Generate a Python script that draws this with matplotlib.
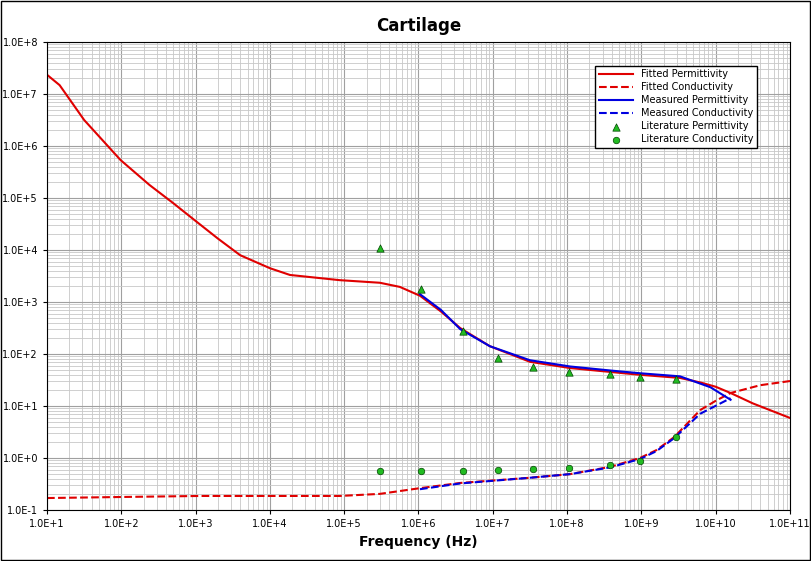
import numpy as np
import matplotlib
matplotlib.use("Agg")
import matplotlib.pyplot as plt
from matplotlib.ticker import FixedLocator, FuncFormatter, LogLocator

# log10 values
fp_logf = [1.0, 1.17, 1.5, 1.99, 2.38, 2.7, 2.99, 3.3, 3.6, 4.0, 4.27, 4.94, 5.48, 5.75, 6.02, 6.3, 6.56, 6.96, 7.5, 8.04, 8.98, 9.52, 9.8, 10.0, 10.2, 10.5, 11.0]
fp_logv = [7.37, 7.17, 6.5, 5.73, 5.25, 4.9, 4.57, 4.22, 3.9, 3.65, 3.52, 3.42, 3.37, 3.29, 3.12, 2.82, 2.5, 2.15, 1.85, 1.73, 1.6, 1.54, 1.45, 1.37, 1.25, 1.05, 0.77]
mp_logf = [6.02, 6.3, 6.56, 6.96, 7.5, 8.04, 8.6, 8.98, 9.52, 9.93, 10.2]
mp_logv = [3.15, 2.85, 2.48, 2.15, 1.88, 1.76, 1.68, 1.63, 1.57, 1.36, 1.12]
fc_logf = [1.0, 1.99, 3.06, 4.94, 5.48, 6.02, 6.56, 7.5, 8.04, 8.58, 8.98, 9.2, 9.44, 9.79, 10.0, 10.2, 10.6, 11.0]
fc_logv = [-0.77, -0.75, -0.73, -0.73, -0.69, -0.58, -0.48, -0.38, -0.31, -0.17, 0.0, 0.15, 0.4, 0.92, 1.1, 1.25, 1.4, 1.48]
mc_logf = [6.02, 6.56, 7.5, 8.04, 8.58, 8.98, 9.2, 9.44, 9.79, 10.2]
mc_logv = [-0.6, -0.49, -0.38, -0.31, -0.18, -0.02, 0.13, 0.38, 0.85, 1.15]
lit_logf = [5.48, 6.04, 6.6, 7.07, 7.54, 8.03, 8.58, 8.98, 9.47]
litp_logv = [4.04, 3.25, 2.44, 1.92, 1.75, 1.65, 1.62, 1.56, 1.52]
litc_logv = [-0.25, -0.25, -0.25, -0.23, -0.21, -0.19, -0.13, -0.06, 0.4]

def p(a): return 10 ** np.array(a)

fig = plt.figure(figsize=(8.12, 5.61), dpi=100)
fig.patches.append(plt.Rectangle((0.001, 0.001), 0.997, 0.997, transform=fig.transFigure,
                                 fill=False, edgecolor="black", lw=1))
ax = fig.add_axes([47/812, 51/561, 743/812, 468/561])
ax.plot(p(fp_logf), p(fp_logv), color="#e00000", lw=1.5, label="Fitted Permittivity")
ax.plot(p(fc_logf), p(fc_logv), color="#e00000", lw=1.5, ls="--", label="Fitted Conductivity")
ax.plot(p(mp_logf), p(mp_logv), color="#0000e0", lw=1.5, label="Measured Permittivity")
ax.plot(p(mc_logf), p(mc_logv), color="#0000e0", lw=1.5, ls="--", label="Measured Conductivity")
ax.scatter(p(lit_logf), p(litp_logv), marker="^", s=28, color="#22bb22", edgecolor="#004400", lw=0.5, zorder=5, label="Literature Permittivity")
ax.scatter(p(lit_logf), p(litc_logv), marker="o", s=22, color="#22bb22", edgecolor="#004400", lw=0.5, zorder=5, label="Literature Conductivity")
ax.set_xscale("log"); ax.set_yscale("log")
ax.set_xlim(1e1, 1e11); ax.set_ylim(1e-1, 1e8)
fmt = FuncFormatter(lambda v, _: "1.0E%+d" % int(round(np.log10(v))))
ax.xaxis.set_major_locator(FixedLocator([10.0**k for k in range(1, 12)]))
ax.yaxis.set_major_locator(FixedLocator([10.0**k for k in range(-1, 9)]))
ax.xaxis.set_major_formatter(fmt); ax.yaxis.set_major_formatter(fmt)
ax.xaxis.set_minor_locator(LogLocator(base=10, subs=np.arange(2, 10), numticks=100))
ax.yaxis.set_minor_locator(LogLocator(base=10, subs=np.arange(2, 10), numticks=100))
ax.grid(True, which="major", color="#a0a0a0", lw=0.8)
ax.grid(True, which="minor", color="#c8c8c8", lw=0.6)
ax.tick_params(labelsize=7, length=3)
ax.tick_params(which="minor", length=0)
ax.set_xlabel("Frequency (Hz)", fontsize=10, fontweight="bold")
ax.set_title("Cartilage", fontsize=12, fontweight="bold", pad=8)
leg = ax.legend(loc="upper right", bbox_to_anchor=(0.962, 0.96), fontsize=7, frameon=True,
                fancybox=False, edgecolor="black", framealpha=1, handlelength=3.5, borderpad=0.4, labelspacing=0.3)
fig.savefig("out.png", dpi=100)
